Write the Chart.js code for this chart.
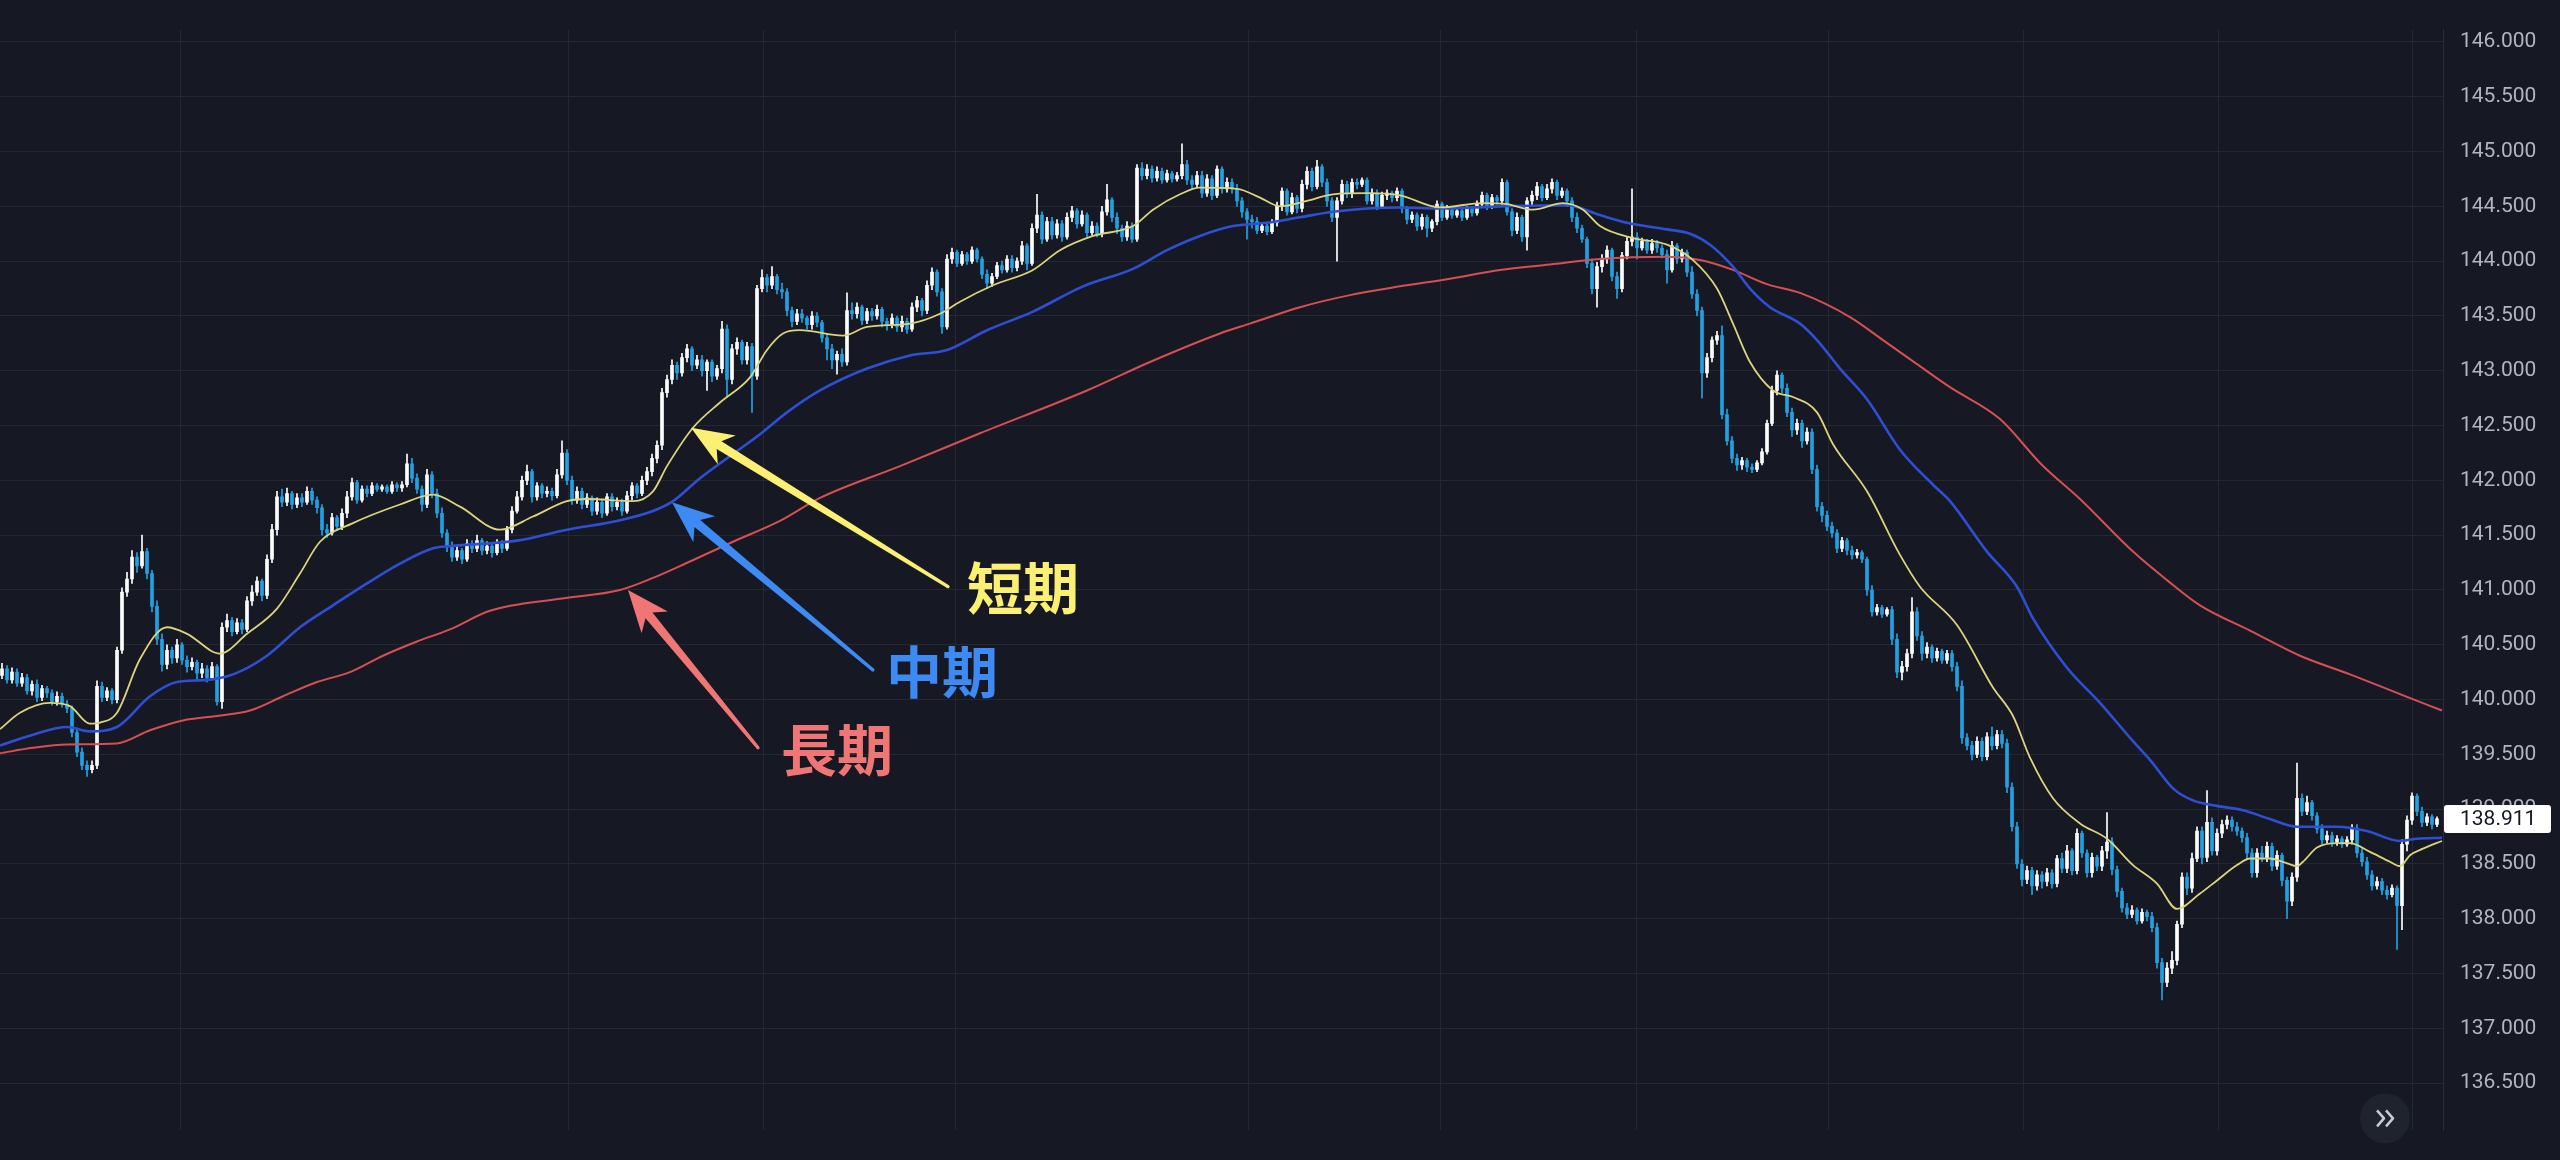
<!DOCTYPE html>
<html>
<head>
  <title>USDJPY moving averages</title>
  <script src="https://cdn.jsdelivr.net/npm/chart.js"></script>
  <style>
    html, body { margin: 0; padding: 0; background: #161923; overflow: hidden; }
    #priceChart { display: block; }
  </style>
</head>
<body>
  <canvas id="priceChart" width="2560" height="1160"></canvas>

  <script>
    // candles: open of each bar is the previous close
    const firstOpen = 140.22;
    const closes = [
      140.28, 140.18, 140.25, 140.15, 140.20, 140.08, 140.14, 140.02, 140.10, 140.06,
      139.98, 140.03, 139.96, 139.92, 139.70, 139.52, 139.40, 139.36, 139.40, 140.12,
      140.02, 140.08, 140.00, 140.45, 140.98, 141.10, 141.30, 141.22, 141.35, 141.15,
      140.85, 140.55, 140.32, 140.45, 140.38, 140.50, 140.36, 140.30, 140.34, 140.24,
      140.28, 140.20, 140.30, 139.98, 140.66, 140.72, 140.62, 140.70, 140.64, 140.90,
      140.98, 141.08, 140.95, 141.28, 141.55, 141.85, 141.80, 141.88, 141.78, 141.84,
      141.80, 141.90, 141.82, 141.75, 141.55, 141.52, 141.66, 141.58, 141.70, 141.85,
      141.98, 141.82, 141.92, 141.88, 141.95, 141.92, 141.94, 141.90, 141.96, 141.93,
      141.96, 142.15, 142.02, 141.92, 141.78, 142.05, 141.88, 141.70, 141.52, 141.40,
      141.30, 141.36, 141.28, 141.42, 141.38, 141.45, 141.36, 141.40, 141.34, 141.42,
      141.38, 141.55, 141.72, 141.85, 142.00, 142.08, 141.85, 141.95, 141.88, 141.90,
      141.86, 142.05, 142.25, 142.00, 141.82, 141.90, 141.78, 141.84, 141.72, 141.80,
      141.70, 141.85, 141.76, 141.80, 141.72, 141.86, 141.95, 141.88, 142.00, 142.08,
      142.20, 142.32, 142.80, 142.92, 143.05, 142.98, 143.12, 143.20, 143.05, 143.10,
      143.00, 143.08, 142.95, 143.02, 143.38, 142.92, 143.20, 143.26, 143.10, 143.22,
      142.95, 143.75, 143.85, 143.78, 143.86, 143.74, 143.72, 143.55, 143.45, 143.52,
      143.48, 143.42, 143.50, 143.44, 143.30, 143.20, 143.10, 143.15, 143.08, 143.55,
      143.52, 143.58, 143.46, 143.54, 143.50, 143.56, 143.45, 143.42, 143.48, 143.40,
      143.45, 143.38, 143.58, 143.64, 143.55, 143.78, 143.90, 143.72, 143.40, 144.02,
      144.08, 143.98, 144.06, 144.00, 144.10, 144.02, 143.88, 143.80, 143.86, 143.96,
      143.92, 144.02, 143.94, 144.00, 144.14, 143.98, 144.30, 144.42, 144.20, 144.36,
      144.24, 144.34, 144.22, 144.40, 144.46, 144.34, 144.42, 144.26, 144.32, 144.25,
      144.45, 144.56, 144.40, 144.30, 144.22, 144.32, 144.20, 144.85, 144.78, 144.84,
      144.76, 144.82, 144.74, 144.80, 144.75, 144.78, 144.88, 144.74, 144.70, 144.78,
      144.62, 144.75, 144.60, 144.84, 144.66, 144.72, 144.66, 144.55, 144.45, 144.38,
      144.36, 144.28, 144.32, 144.27, 144.35, 144.50, 144.64, 144.45, 144.58, 144.48,
      144.70, 144.82, 144.68, 144.86, 144.72, 144.55, 144.40, 144.55, 144.70, 144.62,
      144.72, 144.70, 144.74, 144.55, 144.62, 144.50, 144.60, 144.62, 144.58, 144.64,
      144.48, 144.38, 144.42, 144.32, 144.40, 144.30, 144.36, 144.52, 144.40, 144.48,
      144.42, 144.46, 144.40, 144.48, 144.44, 144.52, 144.60, 144.50, 144.58, 144.55,
      144.72, 144.45, 144.28, 144.40, 144.22, 144.55, 144.60, 144.68, 144.58, 144.66,
      144.72, 144.60, 144.64, 144.55, 144.40, 144.30, 144.20, 143.98, 143.75, 143.95,
      144.02, 144.10, 143.86, 143.75, 144.05, 144.18, 144.22, 144.12, 144.18, 144.10,
      144.16, 144.12, 144.06, 143.92, 144.14, 144.02, 144.08, 143.90, 143.70, 143.55,
      142.98, 143.12, 143.28, 143.32, 142.60, 142.36, 142.20, 142.14, 142.18, 142.12,
      142.10, 142.16, 142.26, 142.52, 142.82, 142.96, 142.84, 142.62, 142.46, 142.52,
      142.36, 142.44, 142.10, 141.76, 141.68, 141.58, 141.52, 141.38, 141.45, 141.36,
      141.32, 141.34, 141.28, 141.00, 140.80, 140.84, 140.78, 140.82, 140.55, 140.25,
      140.30, 140.42, 140.80, 140.58, 140.42, 140.48, 140.38, 140.44, 140.36, 140.42,
      140.30, 140.12, 139.65, 139.58, 139.50, 139.62, 139.48, 139.66, 139.58, 139.68,
      139.60, 139.20, 138.84, 138.50, 138.36, 138.44, 138.30, 138.40, 138.34, 138.42,
      138.32, 138.55, 138.46, 138.62, 138.44, 138.78, 138.60, 138.42, 138.56, 138.48,
      138.62, 138.70, 138.45, 138.25, 138.10, 138.04, 138.08, 137.98, 138.06, 138.02,
      137.92, 137.60, 137.42, 137.55, 137.62, 137.95, 138.38, 138.28, 138.55, 138.80,
      138.56, 138.88, 138.62, 138.78, 138.86, 138.90, 138.84, 138.80, 138.74, 138.60,
      138.42, 138.60, 138.56, 138.66, 138.48, 138.58, 138.35, 138.16, 138.38, 139.10,
      138.98, 139.06, 138.94, 138.82, 138.72, 138.76, 138.70, 138.73, 138.68, 138.72,
      138.82, 138.60, 138.52, 138.40, 138.30, 138.34, 138.26, 138.22, 138.28, 138.12,
      138.68, 138.90, 139.12, 138.98, 138.88, 138.93, 138.86, 138.911
    ];
    const highs = [
      140.33, 140.31, 140.29, 140.28, 140.24, 140.23, 140.17, 140.18, 140.13, 140.12,
      140.09, 140.07, 140.06, 139.99, 139.94, 139.74, 139.56, 139.44, 139.44, 140.17,
      140.16, 140.11, 140.10, 140.48, 141.02, 141.16, 141.36, 141.34, 141.50, 141.38,
      141.18, 140.90, 140.60, 140.50, 140.48, 140.55, 140.52, 140.40, 140.38, 140.36,
      140.33, 140.31, 140.34, 140.32, 140.70, 140.78, 140.75, 140.74, 140.73, 140.94,
      141.04, 141.12, 141.10, 141.32, 141.60, 141.90, 141.92, 141.93, 141.90, 141.88,
      141.88, 141.94, 141.93, 141.85, 141.78, 141.60, 141.70, 141.68, 141.74, 141.90,
      142.02, 142.00, 141.95, 141.95, 141.98, 141.97, 141.96, 141.96, 141.99, 141.98,
      141.99, 142.24, 142.20, 142.06, 141.95, 142.10, 142.08, 141.92, 141.75, 141.55,
      141.44, 141.40, 141.38, 141.46, 141.45, 141.50, 141.47, 141.44, 141.42, 141.46,
      141.45, 141.58, 141.76, 141.90, 142.04, 142.14, 142.10, 141.98, 141.97, 141.94,
      141.93, 142.10, 142.36, 142.28, 142.04, 141.94, 141.93, 141.88, 141.86, 141.84,
      141.83, 141.88, 141.88, 141.84, 141.83, 141.90, 141.98, 141.97, 142.04, 142.12,
      142.24, 142.36, 142.84, 142.96, 143.10, 143.08, 143.16, 143.24, 143.22, 143.14,
      143.14, 143.10, 143.10, 143.05, 143.45, 143.42, 143.24, 143.30, 143.28, 143.26,
      143.25, 143.78, 143.92, 143.88, 143.95, 143.88, 143.80, 143.75, 143.58, 143.56,
      143.56, 143.50, 143.54, 143.53, 143.46, 143.34, 143.24, 143.18, 143.20, 143.71,
      143.62, 143.62, 143.60, 143.57, 143.57, 143.60, 143.58, 143.48, 143.52, 143.50,
      143.50, 143.48, 143.62, 143.68, 143.66, 143.82, 143.94, 143.92, 143.75, 144.06,
      144.12, 144.10, 144.09, 144.08, 144.13, 144.12, 144.04, 143.92, 143.89, 143.99,
      144.00, 144.05, 144.05, 144.03, 144.18, 144.16, 144.34, 144.61, 144.45, 144.40,
      144.40, 144.38, 144.37, 144.44, 144.50, 144.48, 144.46, 144.44, 144.36, 144.35,
      144.50, 144.70, 144.58, 144.44, 144.33, 144.36, 144.35, 144.88, 144.90, 144.88,
      144.87, 144.86, 144.85, 144.83, 144.82, 144.81, 145.07, 144.92, 144.78, 144.82,
      144.82, 144.79, 144.78, 144.87, 144.86, 144.76, 144.75, 144.70, 144.58, 144.48,
      144.42, 144.40, 144.35, 144.34, 144.38, 144.54, 144.67, 144.66, 144.62, 144.60,
      144.74, 144.86, 144.85, 144.92, 144.88, 144.75, 144.58, 144.58, 144.74, 144.73,
      144.75, 144.75, 144.76, 144.76, 144.66, 144.65, 144.63, 144.65, 144.64, 144.67,
      144.66, 144.50, 144.45, 144.44, 144.43, 144.42, 144.38, 144.55, 144.54, 144.51,
      144.50, 144.49, 144.48, 144.50, 144.50, 144.55, 144.63, 144.62, 144.61, 144.60,
      144.75, 144.74, 144.48, 144.44, 144.42, 144.58, 144.64, 144.72, 144.70, 144.70,
      144.75, 144.74, 144.67, 144.66, 144.58, 144.44, 144.33, 144.22, 144.02, 143.99,
      144.06, 144.14, 144.12, 143.90, 144.08, 144.22, 144.66, 144.26, 144.21, 144.20,
      144.20, 144.19, 144.15, 144.10, 144.18, 144.16, 144.11, 144.10, 143.95, 143.74,
      143.58, 143.16, 143.31, 143.36, 143.41, 142.65, 142.40, 142.24, 142.21, 142.20,
      142.15, 142.18, 142.29, 142.55, 142.86, 143.00, 142.98, 142.88, 142.66, 142.56,
      142.55, 142.48, 142.47, 142.14, 141.80, 141.72, 141.62, 141.55, 141.48, 141.47,
      141.40, 141.37, 141.36, 141.30, 141.04, 140.87, 140.86, 140.84, 140.85, 140.60,
      140.35, 140.46, 140.93, 140.84, 140.62, 140.52, 140.50, 140.47, 140.46, 140.45,
      140.45, 140.34, 140.17, 139.69, 139.62, 139.66, 139.65, 139.70, 139.75, 139.72,
      139.72, 139.64, 139.24, 138.88, 138.54, 138.48, 138.47, 138.44, 138.43, 138.46,
      138.45, 138.58, 138.60, 138.67, 138.64, 138.82, 138.80, 138.63, 138.60, 138.58,
      138.66, 138.97, 138.74, 138.48, 138.28, 138.14, 138.12, 138.10, 138.09, 138.08,
      138.06, 137.96, 137.64, 137.60, 137.70, 137.98, 138.42, 138.42, 138.60, 138.84,
      138.84, 139.17, 138.92, 138.82, 138.90, 138.94, 138.93, 138.88, 138.83, 138.78,
      138.64, 138.64, 138.66, 138.70, 138.69, 138.62, 138.60, 138.38, 138.42, 139.42,
      139.14, 139.12, 139.08, 138.97, 138.86, 138.80, 138.79, 138.76, 138.75, 138.75,
      138.86, 138.86, 138.64, 138.56, 138.44, 138.38, 138.37, 138.30, 138.31, 138.30,
      138.72, 138.94, 139.15, 139.14, 139.02, 138.96, 138.95, 138.93
    ];
    const lows = [
      140.19, 140.15, 140.15, 140.12, 140.12, 140.05, 140.04, 139.98, 139.99, 140.02,
      139.95, 139.95, 139.93, 139.88, 139.66, 139.48, 139.36, 139.30, 139.33, 139.37,
      139.98, 139.99, 139.96, 139.97, 140.42, 140.94, 141.06, 141.16, 141.20, 141.10,
      140.80, 140.50, 140.26, 140.28, 140.33, 140.34, 140.32, 140.25, 140.27, 140.18,
      140.20, 140.16, 140.18, 139.95, 139.92, 140.62, 140.58, 140.60, 140.60, 140.62,
      140.86, 140.95, 140.90, 140.92, 141.25, 141.50, 141.76, 141.77, 141.74, 141.75,
      141.76, 141.78, 141.78, 141.70, 141.50, 141.48, 141.50, 141.54, 141.55, 141.66,
      141.82, 141.79, 141.80, 141.85, 141.86, 141.90, 141.90, 141.88, 141.88, 141.90,
      141.90, 141.94, 141.98, 141.88, 141.72, 141.75, 141.84, 141.66, 141.48, 141.35,
      141.26, 141.27, 141.24, 141.26, 141.34, 141.35, 141.32, 141.33, 141.30, 141.32,
      141.34, 141.36, 141.52, 141.70, 141.82, 141.96, 141.80, 141.82, 141.84, 141.85,
      141.82, 141.84, 142.02, 141.96, 141.78, 141.79, 141.74, 141.75, 141.68, 141.69,
      141.66, 141.68, 141.72, 141.73, 141.68, 141.70, 141.82, 141.84, 141.86, 141.96,
      142.04, 142.16, 142.28, 142.76, 142.88, 142.92, 142.95, 143.08, 143.00, 143.02,
      142.95, 142.82, 142.90, 142.92, 142.98, 142.76, 142.88, 143.15, 143.06, 143.06,
      142.62, 142.92, 143.72, 143.72, 143.75, 143.70, 143.66, 143.50, 143.40, 143.42,
      143.44, 143.38, 143.38, 143.40, 143.26, 143.10, 143.02, 142.97, 143.04, 143.05,
      143.47, 143.48, 143.42, 143.43, 143.46, 143.47, 143.40, 143.37, 143.39, 143.36,
      143.36, 143.34, 143.36, 143.54, 143.50, 143.52, 143.74, 143.68, 143.34, 143.38,
      143.98, 143.95, 143.96, 143.97, 143.98, 143.99, 143.84, 143.75, 143.77, 143.84,
      143.89, 143.90, 143.90, 143.91, 143.97, 143.92, 143.96, 144.26, 144.16, 144.18,
      144.20, 144.21, 144.18, 144.20, 144.36, 144.30, 144.32, 144.22, 144.24, 144.22,
      144.22, 144.42, 144.36, 144.25, 144.18, 144.19, 144.17, 144.18, 144.74, 144.75,
      144.72, 144.73, 144.71, 144.72, 144.72, 144.73, 144.75, 144.70, 144.66, 144.68,
      144.58, 144.59, 144.56, 144.58, 144.62, 144.63, 144.62, 144.50, 144.40, 144.20,
      144.30, 144.25, 144.26, 144.24, 144.25, 144.32, 144.46, 144.42, 144.43, 144.44,
      144.45, 144.66, 144.64, 144.66, 144.68, 144.50, 144.36, 144.00, 144.52, 144.58,
      144.58, 144.66, 144.68, 144.52, 144.52, 144.47, 144.48, 144.56, 144.54, 144.55,
      144.44, 144.34, 144.35, 144.28, 144.29, 144.22, 144.27, 144.33, 144.37, 144.38,
      144.39, 144.40, 144.37, 144.38, 144.41, 144.42, 144.49, 144.47, 144.48, 144.52,
      144.52, 144.42, 144.23, 144.25, 144.18, 144.10, 144.50, 144.56, 144.55, 144.56,
      144.62, 144.56, 144.58, 144.50, 144.36, 144.26, 144.17, 143.94, 143.70, 143.58,
      143.90, 143.98, 143.82, 143.66, 143.72, 144.02, 144.14, 144.02, 144.10, 144.07,
      144.07, 144.08, 144.03, 143.80, 143.90, 143.98, 143.99, 143.86, 143.66, 143.50,
      142.75, 142.94, 143.08, 143.24, 142.56, 142.32, 142.16, 142.09, 142.10, 142.08,
      142.07, 142.08, 142.14, 142.24, 142.50, 142.78, 142.80, 142.58, 142.40, 142.42,
      142.30, 142.33, 142.06, 141.72, 141.62, 141.54, 141.48, 141.34, 141.35, 141.32,
      141.28, 141.29, 141.25, 140.95, 140.76, 140.77, 140.75, 140.76, 140.50, 140.20,
      140.18, 140.26, 140.38, 140.54, 140.36, 140.38, 140.34, 140.35, 140.33, 140.33,
      140.26, 140.08, 139.60, 139.54, 139.45, 139.47, 139.44, 139.45, 139.54, 139.55,
      139.56, 139.15, 138.80, 138.46, 138.30, 138.32, 138.22, 138.26, 138.28, 138.30,
      138.28, 138.29, 138.42, 138.42, 138.40, 138.41, 138.56, 138.38, 138.38, 138.44,
      138.44, 138.55, 138.40, 138.20, 138.06, 138.00, 138.01, 137.95, 137.96, 137.98,
      137.88, 137.55, 137.26, 137.38, 137.50, 137.58, 137.92, 138.22, 138.24, 138.52,
      138.50, 138.52, 138.58, 138.58, 138.74, 138.82, 138.80, 138.76, 138.70, 138.55,
      138.38, 138.38, 138.52, 138.52, 138.44, 138.45, 138.30, 138.00, 138.12, 138.34,
      138.94, 138.95, 138.90, 138.78, 138.68, 138.69, 138.66, 138.67, 138.65, 138.66,
      138.68, 138.56, 138.48, 138.36, 138.26, 138.27, 138.22, 138.18, 138.20, 137.72,
      137.90, 138.62, 138.86, 138.94, 138.84, 138.85, 138.82, 138.84
    ];

    // moving averages, [bar index, price]
    const maShort = [
      [-0.4, 139.73], [3.6, 139.88], [9.6, 139.97], [13.6, 139.94], [17.6, 139.78], [19.6, 139.79],
      [23, 139.88], [27.6, 140.37], [33, 140.66], [37, 140.60], [43.6, 140.42], [49, 140.60],
      [55, 140.83], [59.6, 141.15], [63.6, 141.44], [70.2, 141.61], [79.6, 141.78], [86.2, 141.87],
      [91.6, 141.76], [99.6, 141.55], [106.2, 141.67], [113, 141.81], [117, 141.83], [126.2, 141.81],
      [130.2, 141.90], [133, 142.13], [138.2, 142.48], [143.6, 142.71], [149.6, 142.94], [153, 143.19],
      [156.2, 143.34], [159.6, 143.37], [168.2, 143.32], [173, 143.40], [181.6, 143.43], [187.6, 143.52],
      [191.6, 143.63], [198.2, 143.78], [206.2, 143.92], [211.6, 144.10], [218.2, 144.23], [226.2, 144.32],
      [230.2, 144.47], [235.6, 144.61], [239.6, 144.67], [247, 144.66], [251.6, 144.58], [255.6, 144.50],
      [261, 144.55], [266.2, 144.61], [273, 144.62], [279.6, 144.60], [287.6, 144.49], [296.2, 144.53],
      [301, 144.52], [306.2, 144.47], [312.2, 144.53], [316.2, 144.47], [319.6, 144.32], [326.2, 144.21],
      [333, 144.15], [338.2, 144.01], [343, 143.75], [346.2, 143.43], [349.6, 143.08], [354.2, 142.82],
      [358.2, 142.76], [363, 142.62], [366.2, 142.33], [373, 141.90], [379.6, 141.32], [383.6, 141.03],
      [391, 140.68], [398.2, 140.11], [402.2, 139.85], [405.6, 139.47], [410.2, 139.10], [415.6, 138.87],
      [421, 138.73], [426.2, 138.49], [431, 138.32], [435, 138.09], [439.6, 138.23], [443, 138.35],
      [447, 138.49], [449.6, 138.55], [453.6, 138.55], [456.2, 138.52], [459, 138.48], [460.2, 138.52],
      [463, 138.65], [467, 138.69], [469.6, 138.69], [473.6, 138.61], [477.6, 138.52], [479.6, 138.48],
      [481.6, 138.58], [484.2, 138.64], [488, 138.71]
    ];
    const maMid = [
      [-0.4, 139.58], [6.2, 139.68], [13, 139.75], [17.6, 139.71], [23, 139.75], [29.6, 140.03],
      [35, 140.16], [41, 140.18], [46.2, 140.23], [53, 140.40], [59.6, 140.66], [66.2, 140.86],
      [73, 141.06], [79.6, 141.24], [86.2, 141.38], [89.6, 141.40], [103, 141.45], [113, 141.55],
      [123, 141.63], [130.2, 141.72], [134.2, 141.81], [139.6, 142.02], [146.2, 142.24], [151.6, 142.42],
      [157, 142.62], [163.6, 142.82], [173, 143.02], [181.6, 143.14], [189, 143.19], [197, 143.37],
      [206.2, 143.54], [216.2, 143.77], [226.2, 143.93], [233, 144.10], [239.6, 144.23], [246.2, 144.32],
      [253, 144.35], [259.6, 144.40], [266.2, 144.45], [273, 144.48], [279.6, 144.49], [287.6, 144.48],
      [299.6, 144.50], [313, 144.51], [319.6, 144.42], [325, 144.35], [333, 144.29], [337.6, 144.25],
      [341.6, 144.15], [346.2, 143.95], [349.6, 143.75], [353.6, 143.58], [359.6, 143.43], [363, 143.28],
      [367.6, 143.02], [373, 142.74], [379.6, 142.28], [386.2, 141.96], [389.6, 141.81], [397, 141.35],
      [403, 141.03], [406.2, 140.74], [413, 140.29], [419.6, 139.97], [426.2, 139.62], [429.6, 139.45],
      [434.2, 139.19], [438.2, 139.08], [443, 139.03], [448.2, 138.99], [453.6, 138.91], [459, 138.84],
      [467, 138.84], [473, 138.80], [479.6, 138.71], [483, 138.73], [488, 138.74]
    ];
    const maLong = [
      [-0.4, 139.51], [6.2, 139.56], [13, 139.59], [23, 139.60], [29.6, 139.72], [36.2, 139.81],
      [43, 139.85], [49.6, 139.90], [56.2, 140.03], [63, 140.16], [69.6, 140.25], [76.2, 140.40],
      [83, 140.53], [89.6, 140.64], [97.6, 140.81], [111.6, 140.92], [123.6, 141.00], [130.2, 141.11],
      [137.6, 141.26], [146.2, 141.44], [155.6, 141.63], [163.6, 141.84], [179.6, 142.13], [195.6, 142.43],
      [217, 142.82], [229.6, 143.08], [243.6, 143.34], [249.6, 143.43], [259.6, 143.58], [269.6, 143.69],
      [279.6, 143.77], [289.6, 143.84], [299.6, 143.92], [309.6, 143.97], [319.6, 144.02], [333, 144.04],
      [339.6, 144.01], [346.2, 143.92], [353, 143.79], [359.6, 143.71], [369.6, 143.49], [376.2, 143.28],
      [383, 143.06], [389.6, 142.85], [399.6, 142.56], [407.8, 142.15], [415.6, 141.83], [426.2, 141.35],
      [433, 141.09], [439.6, 140.86], [449.6, 140.63], [459.6, 140.40], [469.6, 140.23], [479.6, 140.05],
      [488, 139.90]
    ];

    // vertical grid lines (day breaks), in bar index units
    const dayBreaks = [35.6, 113.2, 152.2, 190.6, 249.2, 287.6, 326.8, 365.4, 404.2, 443.2, 482];
    const lastPrice = 138.911;

    // labels with arrows: text centre, arrow tail, arrow tip (bar index, price)
    const notes = [
      { text: '短期', color: '#fbf074', at: [204.2, 141.02], tail: [189.2, 141.03], tip: [137.8, 142.48] },
      { text: '中期', color: '#3d8bf2', at: [188, 140.25], tail: [174.2, 140.27], tip: [134, 141.80] },
      { text: '長期', color: '#f07676', at: [167, 139.54], tail: [151.2, 139.56], tip: [125.2, 141.00] }
    ];

    const UP = '#ffffff';
    const DOWN = '#22a1e2';

    const opens = closes.map((c, i) => i === 0 ? firstOpen : closes[i - 1]);
    const candleColors = closes.map((c, i) => c >= opens[i] ? UP : DOWN);
    const bodies = closes.map((c, i) => ({ x: i, y: [opens[i], c] }));
    const wicks = closes.map((c, i) => ({
      x: i,
      y: [Math.min(lows[i], opens[i], c), Math.max(highs[i], opens[i], c)]
    }));
    const toPoints = arr => arr.map(p => ({ x: p[0], y: p[1] }));

    function drawArrow(ctx, x1, y1, x2, y2, color) {
      const ang = Math.atan2(y2 - y1, x2 - x1);
      const len = Math.hypot(x2 - x1, y2 - y1);
      ctx.save();
      ctx.translate(x2, y2);
      ctx.rotate(ang);
      ctx.fillStyle = color;
      ctx.beginPath();
      ctx.moveTo(0, 0);
      ctx.lineTo(-42, -17);
      ctx.lineTo(-33, -4.5);
      ctx.lineTo(-len, -1.6);
      ctx.lineTo(-len, 1.6);
      ctx.lineTo(-33, 4.5);
      ctx.lineTo(-42, 17);
      ctx.closePath();
      ctx.fill();
      ctx.beginPath();
      ctx.arc(-len, 0, 1.6, 0, Math.PI * 2);
      ctx.fill();
      ctx.restore();
    }

    const overlay = {
      id: 'overlay',
      beforeDraw(chart) {
        const ctx = chart.ctx;
        ctx.save();
        ctx.fillStyle = '#161923';
        ctx.fillRect(0, 0, chart.width, chart.height);
        ctx.restore();
      },
      afterDatasetsDraw(chart) {
        const ctx = chart.ctx;
        const xs = chart.scales.x, ys = chart.scales.y;
        ctx.save();
        notes.forEach(n => {
          drawArrow(ctx,
            xs.getPixelForValue(n.tail[0]), ys.getPixelForValue(n.tail[1]),
            xs.getPixelForValue(n.tip[0]), ys.getPixelForValue(n.tip[1]), n.color);
          ctx.fillStyle = n.color;
          ctx.font = 'bold 56px "Noto Sans CJK JP"';
          ctx.textAlign = 'center';
          ctx.textBaseline = 'middle';
          ctx.fillText(n.text, xs.getPixelForValue(n.at[0]), ys.getPixelForValue(n.at[1]));
        });
        ctx.restore();
      },
      afterDraw(chart) {
        const ctx = chart.ctx;
        const area = chart.chartArea;
        const y = chart.scales.y.getPixelForValue(lastPrice);
        ctx.save();
        // last price tag on the axis
        ctx.fillStyle = '#ffffff';
        ctx.beginPath();
        ctx.roundRect(area.right + 1, Math.round(y) - 14, 107, 28, 3);
        ctx.fill();
        ctx.fillStyle = '#131722';
        ctx.font = '21px Roboto';
        ctx.textAlign = 'left';
        ctx.textBaseline = 'middle';
        ctx.fillText(lastPrice.toFixed(3), area.right + 17, y + 1);
        // scroll-to-end button, cut by the bottom edge
        ctx.fillStyle = '#1f232e';
        ctx.beginPath();
        ctx.arc(area.right - 58, area.bottom - 12, 25, 0, Math.PI * 2);
        ctx.fill();
        ctx.strokeStyle = '#c8cbd3';
        ctx.lineWidth = 2.5;
        ctx.lineJoin = 'round';
        [0, 9].forEach(dx => {
          const cx = area.right - 66 + dx;
          ctx.beginPath();
          ctx.moveTo(cx, area.bottom - 20);
          ctx.lineTo(cx + 7, area.bottom - 12);
          ctx.lineTo(cx, area.bottom - 4);
          ctx.stroke();
        });
        ctx.restore();
      }
    };

    const ctx = document.getElementById('priceChart').getContext('2d');
    new Chart(ctx, {
      type: 'bar',
      data: {
        datasets: [
          {
            type: 'line', label: '短期', data: toPoints(maShort),
            borderColor: '#dcd47c', borderWidth: 1.8, pointRadius: 0,
            cubicInterpolationMode: 'monotone', order: 0
          },
          {
            type: 'line', label: '中期', data: toPoints(maMid),
            borderColor: '#2e4fd4', borderWidth: 2.6, pointRadius: 0,
            cubicInterpolationMode: 'monotone', order: 1
          },
          {
            type: 'line', label: '長期', data: toPoints(maLong),
            borderColor: '#d64f52', borderWidth: 2, pointRadius: 0,
            cubicInterpolationMode: 'monotone', order: 2
          },
          {
            label: 'body', data: bodies, backgroundColor: candleColors,
            barThickness: 3, minBarLength: 1, grouped: false, order: 3
          },
          {
            label: 'wick', data: wicks, backgroundColor: candleColors,
            barThickness: 1, grouped: false, order: 4
          }
        ]
      },
      options: {
        responsive: false,
        animation: false,
        devicePixelRatio: 1,
        layout: { padding: 0 },
        plugins: { legend: { display: false }, tooltip: { enabled: false } },
        scales: {
          x: {
            type: 'linear',
            min: -0.4,
            max: 488.2,
            offset: false,
            grid: { color: '#242833', lineWidth: 1, offset: false, drawTicks: false },
            border: { display: false },
            ticks: { display: false },
            afterBuildTicks: scale => { scale.ticks = dayBreaks.map(v => ({ value: v })); }
          },
          y: {
            position: 'right',
            min: 136.0693,
            max: 146.1126,
            grid: { color: '#242833', lineWidth: 1, drawTicks: false },
            border: { color: '#2a2e39' },
            ticks: {
              stepSize: 0.5,
              includeBounds: false,
              padding: 17,
              color: '#b2b5be',
              font: { family: 'Roboto', size: 21 },
              callback: v => v.toFixed(3)
            },
            afterFit: scale => { scale.width = 117; }
          }
        }
      },
      plugins: [overlay]
    });
  </script>
</body>
</html>
